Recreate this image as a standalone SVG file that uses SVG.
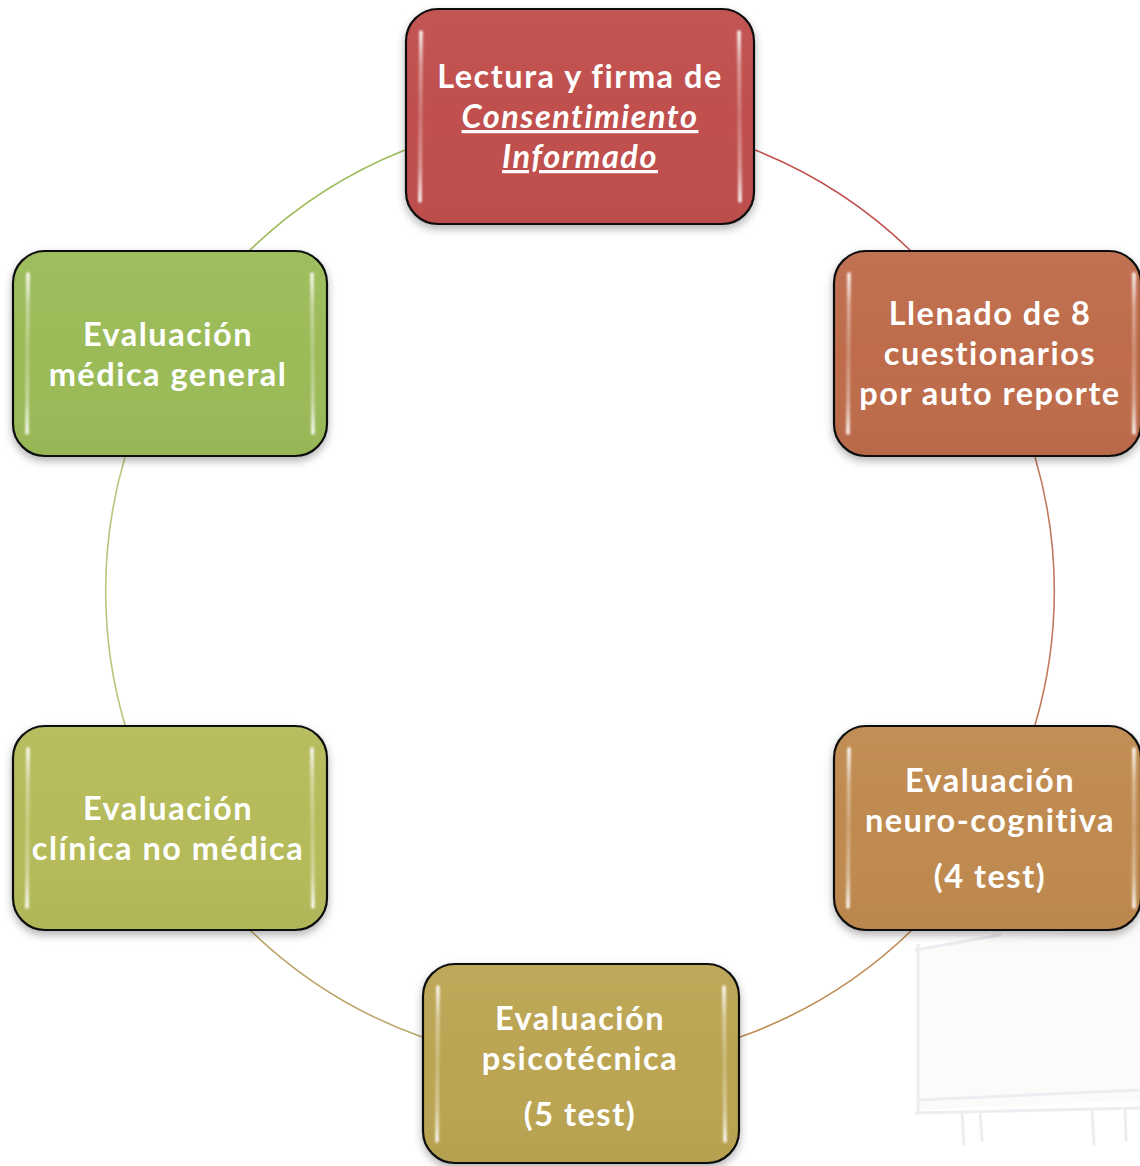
<svg xmlns="http://www.w3.org/2000/svg" width="1140" height="1166" viewBox="0 0 1140 1166">
<defs>
<style>
.box{stroke:#111;stroke-width:2.2}
.t{font-family:"Lato","Liberation Sans",sans-serif;font-weight:700;font-size:32.5px;fill:#fff;text-anchor:middle;letter-spacing:1.5px}
.it{font-style:italic;text-decoration:underline}
.hl{stroke:url(#hlg);stroke-width:3.5;stroke-linecap:round;fill:none;filter:url(#bl)}
.arc{fill:none;stroke-width:1.6}
.wm{fill:none;stroke:#eceef2;stroke-width:3;stroke-linecap:round}
</style>
<linearGradient id="gloss" x1="0" y1="0" x2="0" y2="1">
<stop offset="0" stop-color="#fff" stop-opacity="0.04"/>
<stop offset="0.5" stop-color="#fff" stop-opacity="0"/>
<stop offset="1" stop-color="#000" stop-opacity="0.03"/>
</linearGradient>
<linearGradient id="hlg" x1="0" y1="0" x2="0" y2="1">
<stop offset="0" stop-color="#fff" stop-opacity="0.95"/>
<stop offset="0.2" stop-color="#fff" stop-opacity="0.45"/>
<stop offset="0.5" stop-color="#fff" stop-opacity="0.25"/>
<stop offset="0.8" stop-color="#fff" stop-opacity="0.45"/>
<stop offset="1" stop-color="#fff" stop-opacity="0.95"/>
</linearGradient>
<filter id="bl" x="-200%" y="-10%" width="500%" height="120%">
<feGaussianBlur stdDeviation="0.8"/>
</filter>
<filter id="sh" x="-10%" y="-10%" width="120%" height="130%">
<feDropShadow dx="0" dy="4" stdDeviation="4" flood-color="#000" flood-opacity="0.3"/>
</filter>
</defs>
<rect width="1140" height="1166" fill="#fff"/>
<g id="watermark">
<path d="M918 1110 L918 948 L1140 925 L1140 1100 Z" fill="#fcfbf9" stroke="none"/>
<path class="wm" d="M918 945 L918 1112 M916 950 L1000 935 M918 1100 L1140 1090 M916 1113 L1140 1108 M962 1113 L964 1145 M980 1113 L982 1140 M1092 1110 L1094 1145 M1125 1110 L1126 1140"/>
</g>
<g id="connectors">
<path class="arc" stroke="#9BBB59" d="M405 150 A474 474 0 0 0 248 252"/>
<path class="arc" stroke="#C0504D" d="M755 150 A474 474 0 0 1 910 250"/>
<path class="arc" stroke="#C07A5E" d="M1035 457 A474 474 0 0 1 1035 725"/>
<path class="arc" stroke="#BF8A50" d="M912 930 A474 474 0 0 1 740 1037"/>
<path class="arc" stroke="#BBA66A" d="M422 1037 A474 474 0 0 1 250 930"/>
<path class="arc" stroke="#BCC47A" d="M125 725 A474 474 0 0 1 125 457"/>
</g>
<g id="node1">
<rect class="box" x="406" y="9" width="348" height="215" rx="32" fill="#C0504D" filter="url(#sh)"/>
<rect x="407" y="10" width="346" height="213" rx="31" fill="url(#gloss)"/>
<path class="hl" d="M421 32 L420 201 M739 32 L740 201"/>
<text class="t" x="580" y="88">Lectura y firma de</text>
<text class="t it" x="580" y="128">Consentimiento</text>
<text class="t it" x="580" y="168">Informado</text>
</g>
<g id="node2">
<rect class="box" x="834" y="251" width="307" height="205" rx="32" fill="#BE6C4C" filter="url(#sh)"/>
<rect x="835" y="252" width="305" height="203" rx="31" fill="url(#gloss)"/>
<path class="hl" d="M849 274 L848 433 M1134 274 L1134 433"/>
<text class="t" x="990" y="325">Llenado de 8</text>
<text class="t" x="990" y="365">cuestionarios</text>
<text class="t" x="990" y="405">por auto reporte</text>
</g>
<g id="node3">
<rect class="box" x="834" y="726" width="307" height="204" rx="32" fill="#BF8A50" filter="url(#sh)"/>
<rect x="835" y="727" width="305" height="202" rx="31" fill="url(#gloss)"/>
<path class="hl" d="M849 749 L848 907 M1134 749 L1134 907"/>
<text class="t" x="990" y="792">Evaluación</text>
<text class="t" x="990" y="832">neuro-cognitiva</text>
<text class="t" x="990" y="888">(4 test)</text>
</g>
<g id="node4">
<rect class="box" x="423" y="964" width="316" height="199" rx="32" fill="#BBA553" filter="url(#sh)"/>
<rect x="424" y="965" width="314" height="197" rx="31" fill="url(#gloss)"/>
<path class="hl" d="M438 987 L437 1141 M724 987 L725 1141"/>
<text class="t" x="580" y="1030">Evaluación</text>
<text class="t" x="580" y="1070">psicotécnica</text>
<text class="t" x="580" y="1126">(5 test)</text>
</g>
<g id="node5">
<rect class="box" x="13" y="726" width="314" height="204" rx="32" fill="#B5BB5A" filter="url(#sh)"/>
<rect x="14" y="727" width="312" height="202" rx="31" fill="url(#gloss)"/>
<path class="hl" d="M28 749 L27 907 M312 749 L313 907"/>
<text class="t" x="168" y="820">Evaluación</text>
<text class="t" x="168" y="860">clínica no médica</text>
</g>
<g id="node6">
<rect class="box" x="13" y="251" width="314" height="205" rx="32" fill="#9BBB59" filter="url(#sh)"/>
<rect x="14" y="252" width="312" height="203" rx="31" fill="url(#gloss)"/>
<path class="hl" d="M28 274 L27 433 M312 274 L313 433"/>
<text class="t" x="168" y="346">Evaluación</text>
<text class="t" x="168" y="386">médica general</text>
</g>
</svg>
